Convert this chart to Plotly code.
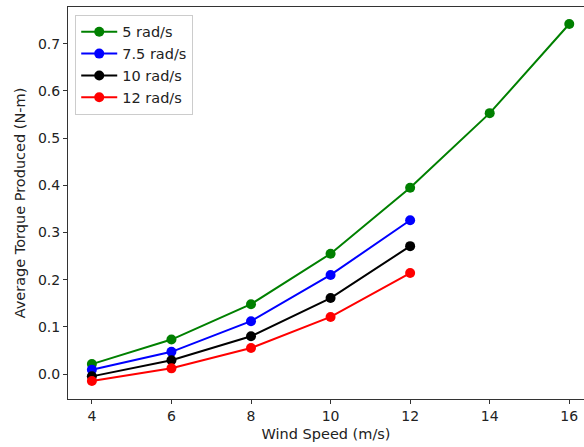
import plotly.graph_objects as go

wind_long = [4, 6, 8, 10, 12, 14, 16]
wind_short = [4, 6, 8, 10, 12]
torque_5 = [0.021, 0.073, 0.148, 0.255, 0.395, 0.553, 0.742]
torque_7_5 = [0.009, 0.047, 0.112, 0.210, 0.326]
torque_10 = [-0.005, 0.029, 0.080, 0.161, 0.271]
torque_12 = [-0.015, 0.012, 0.055, 0.121, 0.214]

series = [
    ("5 rad/s", wind_long, torque_5, "#008000"),
    ("7.5 rad/s", wind_short, torque_7_5, "#0000ff"),
    ("10 rad/s", wind_short, torque_10, "#000000"),
    ("12 rad/s", wind_short, torque_12, "#ff0000"),
]

fig = go.Figure()
for name, x, y, c in series:
    fig.add_trace(go.Scatter(
        x=x, y=y, name=name, mode="lines+markers",
        line=dict(color=c, width=2),
        marker=dict(color=c, size=10),
    ))

base = dict(family="DejaVu Sans", color="#222222")

fig.update_layout(
    width=584, height=447,
    margin=dict(l=68, r=0, t=7, b=48),
    paper_bgcolor="white", plot_bgcolor="white",
    font=dict(size=14, **base),
    showlegend=True,
    legend=dict(
        x=0.014, y=0.98, xanchor="left", yanchor="top",
        bgcolor="rgba(255,255,255,0.8)", bordercolor="#cccccc", borderwidth=1,
        font=dict(size=14.5, **base),
        tracegroupgap=0, itemwidth=36,
    ),
    xaxis=dict(
        range=[3.4, 16.37],
        tickvals=[4, 6, 8, 10, 12, 14, 16],
        tickfont=dict(size=14, **base),
        showgrid=False, zeroline=False,
        showline=True, linecolor="#333333", linewidth=1, mirror=True,
        ticks="outside", ticklen=4, tickcolor="#333333",
        title=dict(text="Wind Speed (m/s)", standoff=6, font=dict(size=14.5, **base)),
    ),
    yaxis=dict(
        range=[-0.053, 0.778],
        tickvals=[0.0, 0.1, 0.2, 0.3, 0.4, 0.5, 0.6, 0.7],
        tickformat=".1f",
        tickfont=dict(size=14, **base),
        showgrid=False, zeroline=False,
        showline=True, linecolor="#333333", linewidth=1,
        ticks="outside", ticklen=4, tickcolor="#333333",
        title=dict(text="Average Torque Produced (N-m)", standoff=8, font=dict(size=14.5, **base)),
    ),
)

fig.write_html("out.html")
